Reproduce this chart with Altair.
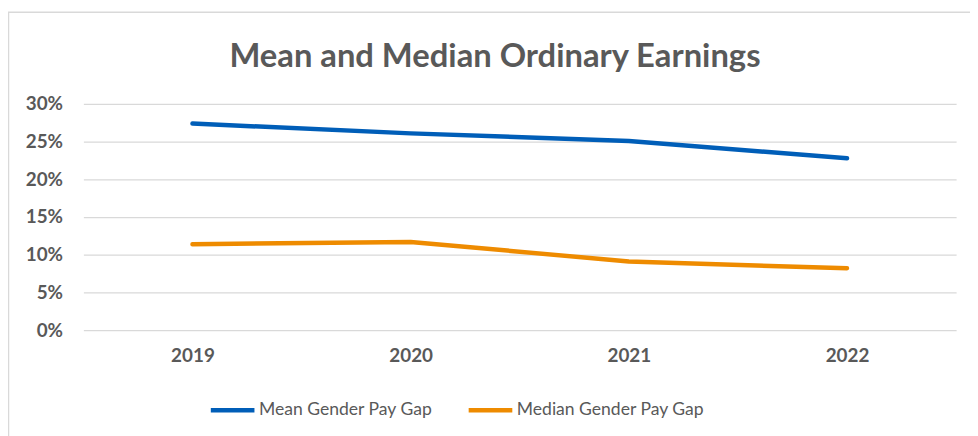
import altair as alt
import pandas as pd

years = ["2019", "2020", "2021", "2022"]
mean_gap = [27.4, 26.1, 25.1, 22.8]
median_gap = [11.4, 11.7, 9.1, 8.2]
series_names = ["Mean Gender Pay Gap", "Median Gender Pay Gap"]
series_colors = ["#005EB8", "#EE8B00"]
y_ticks = [0, 5, 10, 15, 20, 25, 30]
title_text = "Mean and Median Ordinary Earnings"

rows = []
for i, y in enumerate(years):
    rows.append({"year": y, "series": series_names[0], "value": mean_gap[i] / 100})
    rows.append({"year": y, "series": series_names[1], "value": median_gap[i] / 100})
df = pd.DataFrame(rows)

FONT = "Lato"
GREY = "#595959"
W, H = 880, 228

lines = alt.Chart(df).mark_line(strokeWidth=4.5, strokeCap="round", strokeJoin="round").encode(
    x=alt.X("year:N", sort=years, title=None,
            scale=alt.Scale(type="point", padding=0.5),
            axis=alt.Axis(labelAngle=0, labelFont=FONT, labelFontSize=19, labelFontWeight="bold",
                          labelColor=GREY, labelPadding=17, ticks=False, domain=False, grid=False)),
    y=alt.Y("value:Q", title=None,
            scale=alt.Scale(domain=[0, 0.3], nice=False),
            axis=alt.Axis(values=[v / 100 for v in y_ticks], format=".0%", labelFont=FONT,
                          labelFontSize=19, labelFontWeight="bold", labelColor=GREY,
                          labelPadding=21, ticks=False, domain=False, gridColor="#D9D9D9",
                          gridWidth=1.3)),
    color=alt.Color("series:N", sort=series_names,
                    scale=alt.Scale(domain=series_names, range=series_colors),
                    legend=alt.Legend(title=None, orient="none", direction="horizontal",
                                      legendX=126, legendY=284, symbolType="stroke",
                                      symbolSize=1936, symbolStrokeWidth=4.5,
                                      labelFont=FONT, labelFontSize=17.7, labelColor=GREY,
                                      labelOffset=2, columnPadding=26, labelLimit=0)),
)

border = alt.Chart(alt.Data(values=[{}])).mark_rect(fill=None, stroke="#D9D9D9", strokeWidth=1.5).encode(
    x=alt.value(-75.5), x2=alt.value(W + 60), y=alt.value(-92.5), y2=alt.value(H + 150)
)

title = alt.Chart(alt.Data(values=[{"t": title_text}])).mark_text(
    font=FONT, fontSize=33, fontWeight="bold", color=GREY, align="center", baseline="alphabetic"
).encode(text="t:N", x=alt.value(415), y=alt.value(-37))

chart = alt.layer(border, lines, title).properties(
    width=W, height=H,
    background="white",
    autosize=alt.AutoSizeParams(type="none"),
    padding={"left": 76, "top": 95, "right": 14, "bottom": 105},
).configure_view(stroke="transparent", strokeWidth=0)

chart.save("out.html", embed_options={"renderer": "svg", "actions": False})
